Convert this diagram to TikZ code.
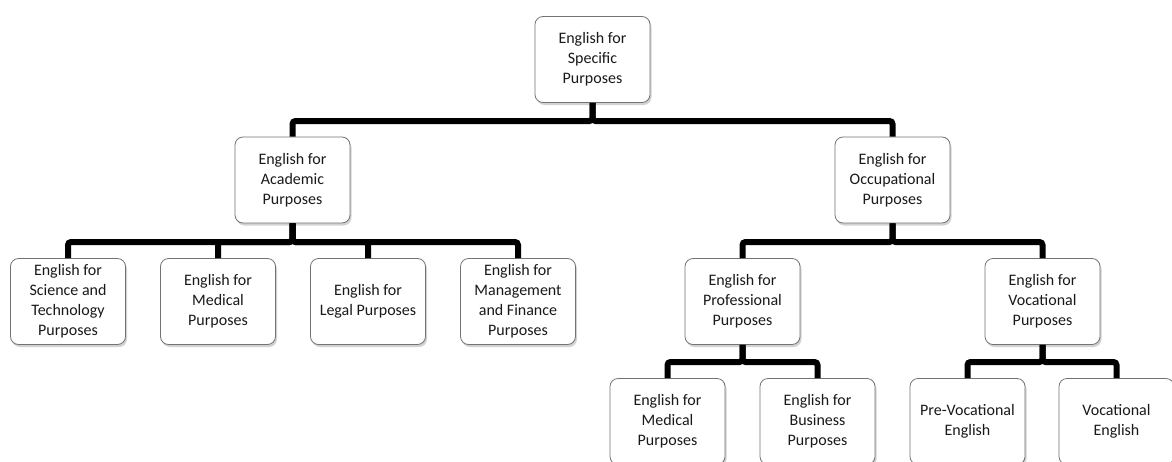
\documentclass[tikz,border=0pt]{standalone}
\usepackage{fontspec}
\setmainfont{Carlito}
\usetikzlibrary{shadows}
\tikzset{
  box/.style={draw=black!55, line width=0.8pt, fill=white, rounded corners=8pt,
    minimum width=115pt, minimum height=86pt, inner sep=1pt, align=center,
    text=black!90, font=\fontsize{16pt}{20pt}\selectfont,
    drop shadow={opacity=0.35, shadow xshift=1.5pt, shadow yshift=-2.5pt}},
  conn/.style={line width=6pt, black, rounded corners=3pt}
}
\begin{document}
\begin{tikzpicture}[x=1pt,y=-1pt]
\useasboundingbox (0,0) rectangle (1172,461);
\clip (0,0) rectangle (1172,461);
\fill[white] (0,0) rectangle (1172,461);
% nodes
\node[box] (esp) at (592.5,59.5) {English for\\Specific\\Purposes};
\node[box] (eap) at (292.5,180) {English for\\Academic\\Purposes};
\node[box] (eop) at (892.5,180) {English for\\Occupational\\Purposes};
\node[box] (est) at (68,301.5) {English for\\Science and\\Technology\\Purposes};
\node[box] (emp) at (218,301.5) {English for\\Medical\\Purposes};
\node[box] (elp) at (368,301.5) {English for\\Legal Purposes};
\node[box] (emf) at (518,301.5) {English for\\Management\\and Finance\\Purposes};
\node[box] (epp) at (742.5,301.5) {English for\\Professional\\Purposes};
\node[box] (evp) at (1042.5,301.5) {English for\\Vocational\\Purposes};
\node[box] (emd) at (667.5,421.5) {English for\\Medical\\Purposes};
\node[box] (ebp) at (817.5,421.5) {English for\\Business\\Purposes};
\node[box] (pve) at (967.5,421.5) {Pre-Vocational\\English};
\node[box] (voe) at (1116.5,421.5) {Vocational\\English};
% connectors
\foreach \p/\c/\y in {esp/eap/121, esp/eop/121,
  eap/est/242, eap/emp/242, eap/elp/242, eap/emf/242,
  eop/epp/242, eop/evp/242,
  epp/emd/362, epp/ebp/362,
  evp/pve/362, evp/voe/362}{
  \draw[conn] (\p.south) -- (\p.south |- 0,\y) -| (\c.north);
}
\end{tikzpicture}
\end{document}
